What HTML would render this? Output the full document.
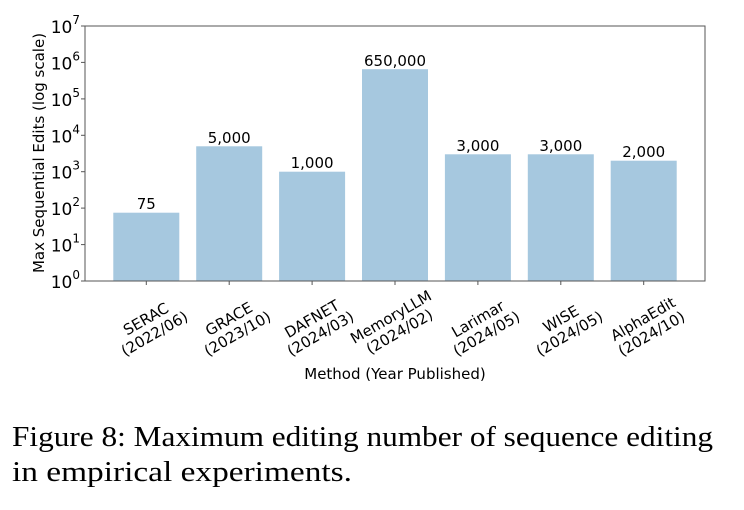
<!DOCTYPE html>
<html><head><meta charset="utf-8"><style>
html,body{margin:0;padding:0;background:#fff;}
svg{display:block;}
.t{font-family:"DejaVu Sans","Liberation Sans",sans-serif;font-size:15px;fill:#000;}
.y{font-family:"DejaVu Sans","Liberation Sans",sans-serif;font-size:17px;fill:#000;}
.c{font-family:"Liberation Serif",serif;font-size:28px;fill:#000;}
</style></head><body>
<svg width="744" height="510" viewBox="0 0 744 510" xmlns="http://www.w3.org/2000/svg">
<g fill="#a6c8df">
<rect x="113.3" y="212.7" width="66" height="68.3"/>
<rect x="196.2" y="146.3" width="66" height="134.7"/>
<rect x="279.1" y="171.7" width="66" height="109.3"/>
<rect x="362" y="69.2" width="66" height="211.8"/>
<rect x="444.9" y="154.3" width="66" height="126.7"/>
<rect x="527.8" y="154.3" width="66" height="126.7"/>
<rect x="610.7" y="160.7" width="66" height="120.3"/>
</g>
<g class="t" text-anchor="middle">
<text x="146.3" y="209">75</text>
<text x="229.2" y="143">5,000</text>
<text x="312.1" y="168">1,000</text>
<text x="395" y="66">650,000</text>
<text x="477.9" y="151">3,000</text>
<text x="560.8" y="151">3,000</text>
<text x="643.7" y="157">2,000</text>
</g>
<rect x="85" y="26" width="620" height="255" fill="none" stroke="#555" stroke-width="1"/>
<g stroke="#555" stroke-width="1">
<line x1="146.3" y1="281" x2="146.3" y2="285"/><line x1="229.2" y1="281" x2="229.2" y2="285"/>
<line x1="312.1" y1="281" x2="312.1" y2="285"/><line x1="395" y1="281" x2="395" y2="285"/>
<line x1="477.9" y1="281" x2="477.9" y2="285"/><line x1="560.8" y1="281" x2="560.8" y2="285"/>
<line x1="643.7" y1="281" x2="643.7" y2="285"/>
<line x1="81" y1="281" x2="85" y2="281"/><line x1="81" y1="244.6" x2="85" y2="244.6"/>
<line x1="81" y1="208.1" x2="85" y2="208.1"/><line x1="81" y1="171.7" x2="85" y2="171.7"/>
<line x1="81" y1="135.3" x2="85" y2="135.3"/><line x1="81" y1="98.9" x2="85" y2="98.9"/>
<line x1="81" y1="62.4" x2="85" y2="62.4"/><line x1="81" y1="26" x2="85" y2="26"/>
</g>
<g class="y" text-anchor="end">
<text x="80" y="288">10<tspan dy="-9" font-size="12">0</tspan></text>
<text x="80" y="251.6">10<tspan dy="-9" font-size="12">1</tspan></text>
<text x="80" y="215.1">10<tspan dy="-9" font-size="12">2</tspan></text>
<text x="80" y="178.7">10<tspan dy="-9" font-size="12">3</tspan></text>
<text x="80" y="142.3">10<tspan dy="-9" font-size="12">4</tspan></text>
<text x="80" y="105.9">10<tspan dy="-9" font-size="12">5</tspan></text>
<text x="80" y="69.4">10<tspan dy="-9" font-size="12">6</tspan></text>
<text x="80" y="33">10<tspan dy="-9" font-size="12">7</tspan></text>
</g>
<text class="t" text-anchor="middle" transform="translate(44,153) rotate(-90)">Max Sequential Edits (log scale)</text>
<g class="t" text-anchor="middle">
<g transform="translate(150,326) rotate(-30)"><text y="-3">SERAC</text><text y="14">(2022/06)</text></g>
<g transform="translate(233,326) rotate(-30)"><text y="-3">GRACE</text><text y="14">(2023/10)</text></g>
<g transform="translate(316,326) rotate(-30)"><text y="-3">DAFNET</text><text y="14">(2024/03)</text></g>
<g transform="translate(395,324) rotate(-30)"><text y="-3">MemoryLLM</text><text y="14">(2024/02)</text></g>
<g transform="translate(482,326) rotate(-30)"><text y="-3">Larimar</text><text y="14">(2024/05)</text></g>
<g transform="translate(565,326) rotate(-30)"><text y="-3">WISE</text><text y="14">(2024/05)</text></g>
<g transform="translate(647,326) rotate(-30)"><text y="-3">AlphaEdit</text><text y="14">(2024/10)</text></g>
</g>
<text class="t" x="395" y="379" text-anchor="middle">Method (Year Published)</text>
<text class="c" x="12" y="446" textLength="701" lengthAdjust="spacingAndGlyphs">Figure 8: Maximum editing number of sequence editing</text>
<text class="c" x="12" y="481" textLength="340" lengthAdjust="spacingAndGlyphs">in empirical experiments.</text>
</svg>
</body></html>
